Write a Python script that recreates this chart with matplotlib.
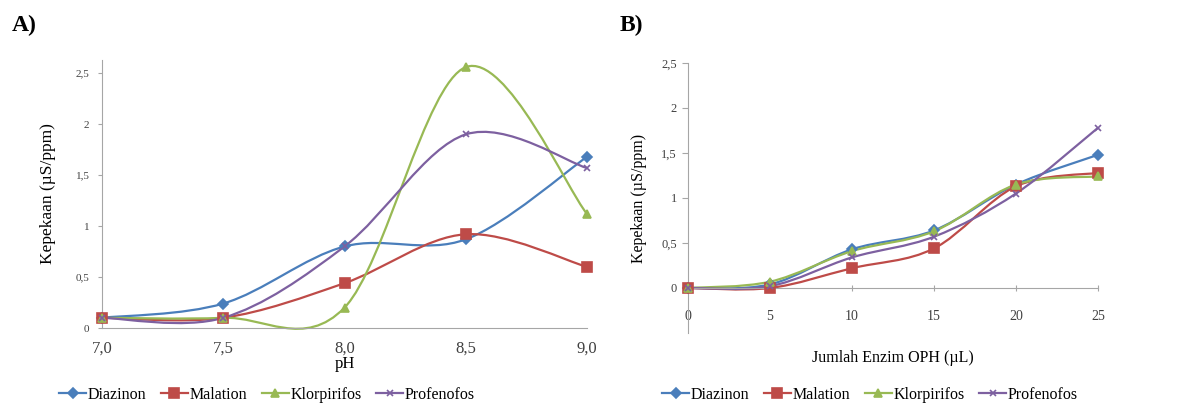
import numpy as np
import matplotlib.pyplot as plt
from matplotlib.path import Path
from matplotlib.patches import PathPatch
from matplotlib.lines import Line2D

plt.rcParams['font.family'] = ['Liberation Serif', 'DejaVu Serif']

# data
series = ['Diazinon', 'Malation', 'Klorpirifos', 'Profenofos']

ph = [7.0, 7.5, 8.0, 8.5, 9.0]
ph_labels = ['7,0', '7,5', '8,0', '8,5', '9,0']
a_diazinon = [0.10, 0.24, 0.80, 0.87, 1.68]
a_malation = [0.10, 0.10, 0.44, 0.92, 0.60]
a_klorpirifos = [0.10, 0.10, 0.20, 2.56, 1.12]
a_profenofos = [0.10, 0.10, 0.80, 1.90, 1.57]

enzim = [0, 5, 10, 15, 20, 25]
enzim_labels = ['0', '5', '10', '15', '20', '25']
b_diazinon = [0.0, 0.04, 0.43, 0.64, 1.15, 1.48]
b_malation = [0.0, 0.0, 0.22, 0.44, 1.13, 1.28]
b_klorpirifos = [0.0, 0.07, 0.41, 0.63, 1.15, 1.24]
b_profenofos = [0.0, 0.02, 0.34, 0.57, 1.05, 1.78]

yticks = [0, 0.5, 1, 1.5, 2, 2.5]
ytick_labels = ['0', '0,5', '1', '1,5', '2', '2,5']

colors = ['#4a7ebb', '#be4b48', '#98b954', '#7d60a0']
markers = ['D', 's', '^', 'x']
msizes = [5, 6.5, 6, 4]


def smooth_path(x, y):
    # excel-like smoothed line: catmull-rom segments as cubic beziers
    p = np.column_stack([x, y]).astype(float)
    pp = np.vstack([p[0], p, p[-1]])
    verts = [p[0]]
    codes = [Path.MOVETO]
    for i in range(len(p) - 1):
        p0, p1, p2, p3 = pp[i], pp[i + 1], pp[i + 2], pp[i + 3]
        verts += [p1 + (p2 - p0) / 6.0, p2 - (p3 - p1) / 6.0, p2]
        codes += [Path.CURVE4] * 3
    return Path(verts, codes)


def draw(ax, x, ys):
    for yv, c, m, ms in zip(ys, colors, markers, msizes):
        ax.add_patch(PathPatch(smooth_path(x, yv), facecolor='none',
                               edgecolor=c, lw=1.6, clip_on=False))
        ax.plot(x, yv, ls='none', marker=m, ms=ms, color=c, mec=c,
                mew=1.2, clip_on=False, zorder=3)


def style(ax):
    for s in ['top', 'right']:
        ax.spines[s].set_visible(False)
    ax.spines['left'].set_color('#a6a6a6')
    ax.spines['bottom'].set_color('#a6a6a6')
    ax.set_yticks(yticks)
    ax.set_yticklabels(ytick_labels)


W, H = 1183, 408
fig = plt.figure(figsize=(W / 100, H / 100), dpi=100)

# panel A
axa = fig.add_axes([102 / W, (H - 328) / H, 485 / W, 268 / H])
draw(axa, ph, [a_diazinon, a_malation, a_klorpirifos, a_profenofos])
style(axa)
axa.set_xlim(7.0, 9.0)
axa.set_ylim(0, 2.63)
axa.set_xticks(ph)
axa.set_xticklabels(ph_labels, fontsize=12, color='#404040')
axa.tick_params(axis='x', length=0, pad=9)
axa.tick_params(axis='y', length=3, color='#a6a6a6', labelsize=8,
                labelcolor='#404040', pad=6)
axa.set_xlabel('pH', fontsize=12, labelpad=0)
axa.set_ylabel('Kepekaan (µS/ppm)', fontsize=12.5, labelpad=14)

# panel B
axb = fig.add_axes([688 / W, (H - 333) / H, 410 / W, 270 / H])
draw(axb, enzim, [b_diazinon, b_malation, b_klorpirifos, b_profenofos])
style(axb)
axb.set_xlim(0, 25)
axb.set_ylim(-0.5, 2.5)
axb.spines['bottom'].set_position(('data', 0))
axb.set_xticks(enzim)
axb.set_xticklabels(enzim_labels, fontsize=10, color='#404040')
axb.tick_params(axis='x', direction='inout', length=5, color='#a6a6a6', pad=13)
axb.tick_params(axis='y', length=4, color='#a6a6a6', labelsize=9,
                labelcolor='#404040', pad=4)
axb.set_xlabel('Jumlah Enzim OPH (µL)', fontsize=11.5)
axb.xaxis.set_label_coords(0.5, -(350 - 333) / 270)
axb.set_ylabel('Kepekaan (µS/ppm)', fontsize=11.5, labelpad=10)

handles = [Line2D([], [], color=c, marker=m, ms=ms, lw=1.6, mew=1.2)
           for c, m, ms in zip(colors, markers, msizes)]
for cx in [267 / W, 870 / W]:
    fig.legend(handles, series, loc='center', bbox_to_anchor=(cx, 1 - 395 / H),
               ncol=4, frameon=False, fontsize=11.5, handlelength=1.7,
               handletextpad=0.1, columnspacing=0.9)

fig.text(12 / W, 1 - 25 / H, 'A)', fontsize=17, fontweight='bold', va='center')
fig.text(620 / W, 1 - 25 / H, 'B)', fontsize=17, fontweight='bold', va='center')

fig.savefig('out.png', dpi=100)
